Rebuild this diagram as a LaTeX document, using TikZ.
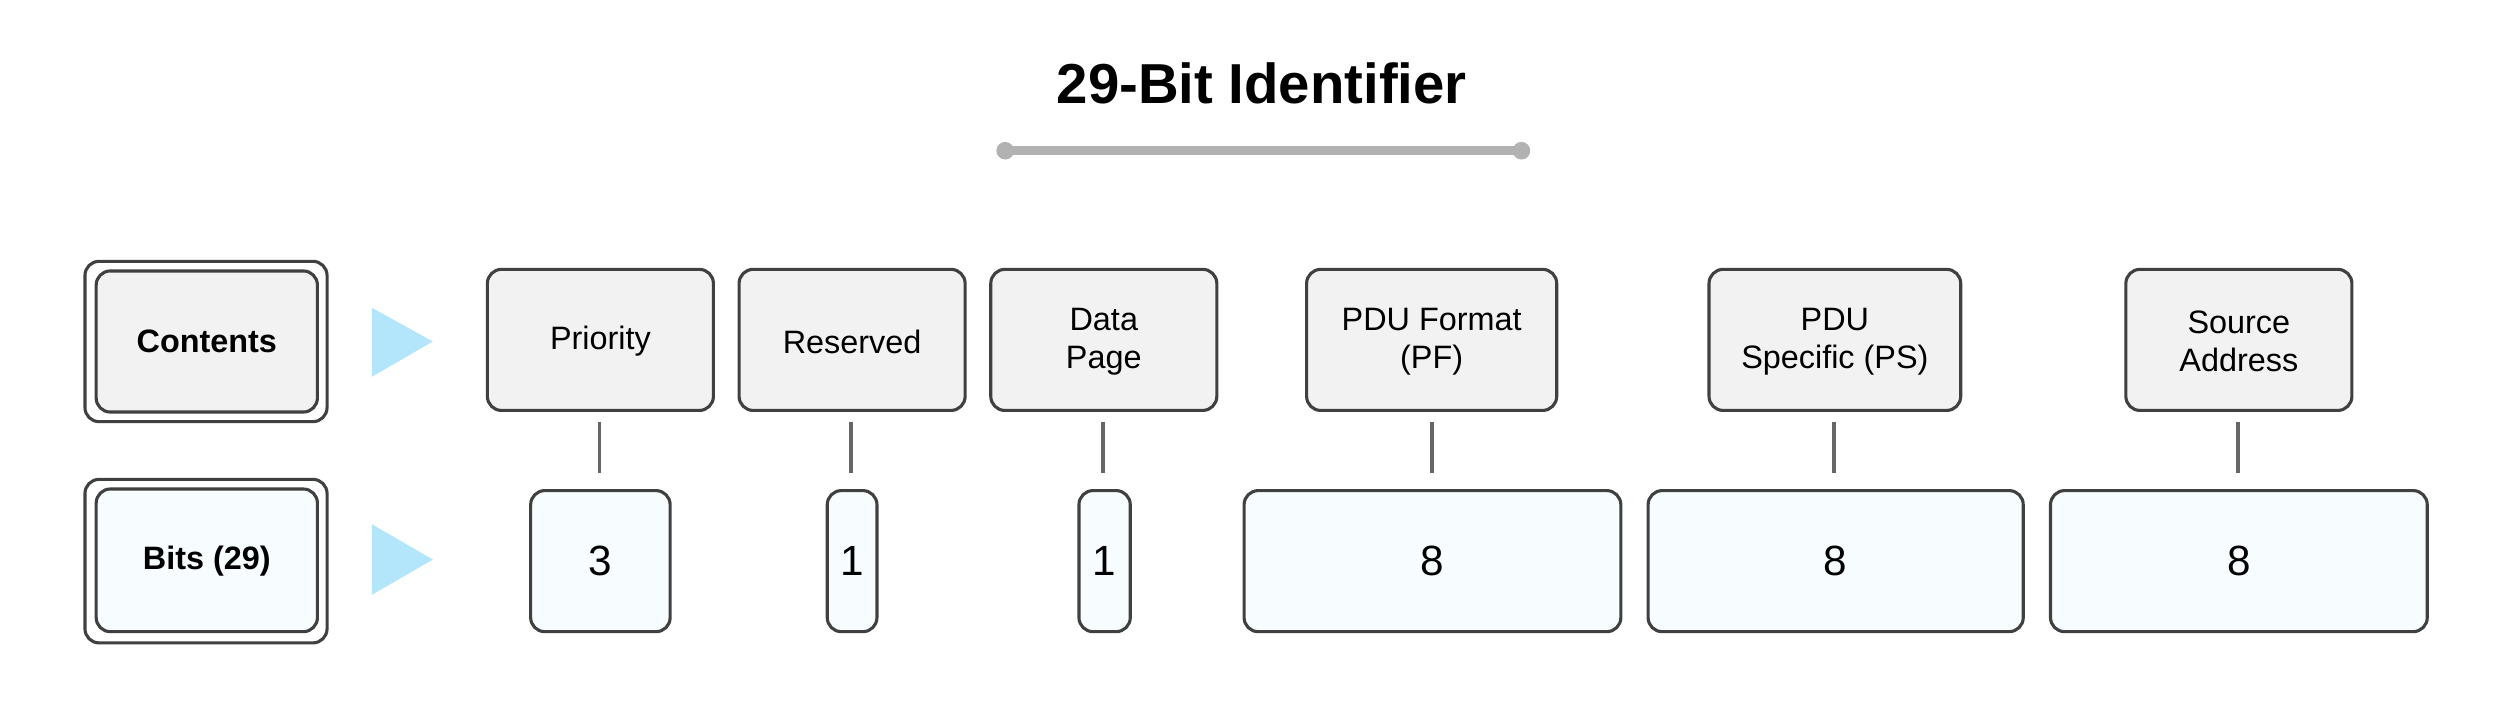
\documentclass[tikz,border=0pt]{standalone}
\usepackage{fontspec}
\setmainfont{Liberation Sans}
\begin{document}
\begin{tikzpicture}[x=0.02cm,y=-0.02cm,
  gbox/.style={draw=black!75,line width=1.1pt,rounded corners=5pt,fill=black!5},
  cbox/.style={draw=black!75,line width=1.1pt,rounded corners=5pt,fill=cyan!3},
  lbl/.style={font=\fontsize{11.5}{13.5}\selectfont,align=center},
  num/.style={font=\fontsize{15}{17}\selectfont},
  conn/.style={draw=black!60,line width=1.3pt},
  tri/.style={fill=cyan!30,draw=none}]
\useasboundingbox (0,0) rectangle (1560,440.4);
\node[font=\bfseries\fontsize{20}{24}\selectfont] (title) at (787,52) {29-Bit Identifier};
\coordinate (l1) at (627,94); \coordinate (l2) at (949,94);
\draw[black!30,line width=3pt] (l1) -- (l2);
\fill[black!30] (l1) circle (5.5) (l2) circle (5.5);
% left boxes
\draw[gbox,fill=white] (53,163) rectangle (204,263);
\draw[gbox] (60,169) rectangle (198,257);
\node[lbl,font=\bfseries\fontsize{11.5}{13.5}\selectfont] (contents) at (129,213) {Contents};
\draw[gbox,fill=white] (53,299) rectangle (204,401);
\draw[cbox] (60,305) rectangle (198,394);
\node[lbl,font=\bfseries\fontsize{11.5}{13.5}\selectfont] (bits) at (129,350) {Bits (29)};
\fill[tri] (232,192) -- (270,213) -- (232,235) -- cycle;
\fill[tri] (232,327) -- (270,349) -- (232,371) -- cycle;
% top boxes
\foreach \n/\a/\b/\t in {p/304/445/Priority, r/461/602/Reserved, d/618/759/{Data\\Page}, f/815/971/{PDU Format\\(PF)}, s/1066/1223/{PDU\\Specific (PS)}, a/1326/1467/{Source\\Address}}{
  \draw[gbox] (\a,168) rectangle (\b,256);
  \node[lbl] (t\n) at ({(\a+\b)/2},213) {\t};
}
\foreach \n/\a/\b/\t in {p/331/418/3, r/516/547/1, d/673/705/1, f/776/1011/8, s/1028/1262/8, a/1279/1514/8}{
  \draw[cbox] (\a,306) rectangle (\b,394);
  \node[num] (b\n) at ({(\a+\b)/2},350) {\t};
}
\foreach \n/\x in {p/374,r/531,d/688,f/893,s/1144,a/1396}{
  \coordinate (c\n1) at (\x,263); \coordinate (c\n2) at (\x,295);
  \draw[conn] (c\n1) -- (c\n2);
}
\end{tikzpicture}
\end{document}
